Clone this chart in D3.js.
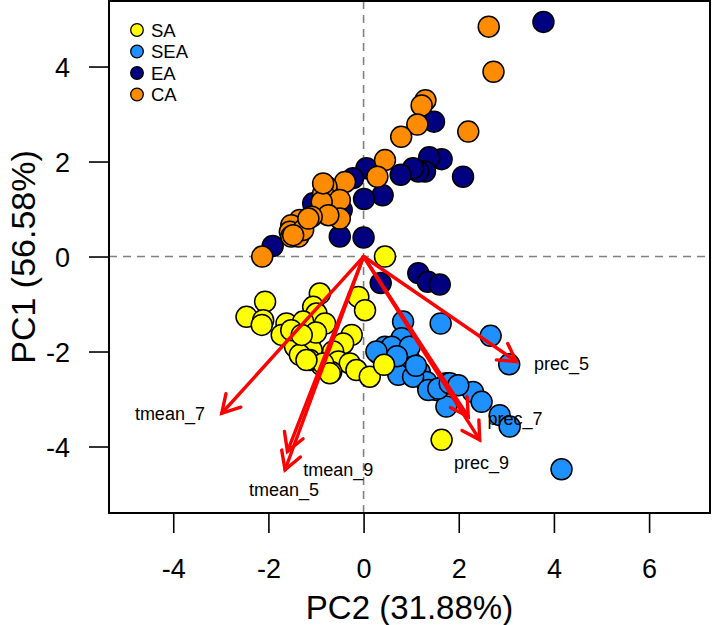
<!DOCTYPE html>
<html><head><meta charset="utf-8">
<script src="https://cdn.jsdelivr.net/npm/d3@7"></script>
<style>body{margin:0;background:#fff}svg{display:block;font-family:"Liberation Sans",Arial,sans-serif}</style>
</head><body><svg id="c" width="715" height="625"></svg>
<script>
// ---- data (x = PC2, y = PC1) ----
const groups = ["SA","SEA","EA","CA"];
const groupColors = ["#FFFF00","#1E90FF","#000080","#FF8C00"];
const saPC2 = [0.45,-0.11,0.03,-2.07,-2.46,-2.11,-2.14,-0.92,-1.06,-0.99,-1.62,-1.72,-1.27,-0.81,-1.13,-1.44,-0.25,-0.43,-1.09,-0.64,-1.34,-0.89,-0.53,-0.29,-0.68,-0.15,-1.13,0.13,-0.85,-0.71,-1.20,0.43,1.64,-1.52,-1.00,-1.30];
const saPC1 = [0.00,-0.85,-1.13,-0.95,-1.27,-1.34,-1.44,-0.78,-1.06,-1.20,-1.41,-1.65,-1.37,-1.41,-1.76,-1.90,-1.65,-1.83,-1.97,-2.00,-2.07,-2.28,-2.21,-2.25,-2.43,-2.39,-2.18,-2.53,-2.25,-2.46,-2.18,-2.28,-3.86,-1.55,-1.60,-1.65];
const seaPC2 = [0.83,1.62,2.67,3.06,0.80,0.45,0.62,0.83,0.31,0.97,0.73,1.18,1.32,1.53,1.74,1.92,2.30,2.48,1.74,2.86,3.07,4.16,0.59,0.97,1.04,1.36,1.57,1.81,1.99,0.27,0.70,1.10];
const seaPC1 = [-1.37,-1.41,-1.67,-2.27,-1.72,-1.90,-1.97,-2.00,-2.04,-2.18,-2.49,-2.43,-2.64,-2.81,-2.67,-2.71,-2.85,-3.06,-3.16,-3.34,-3.58,-4.48,-1.90,-1.90,-2.53,-2.81,-2.78,-2.67,-2.71,-2.00,-2.10,-2.30];
const eaPC2 = [3.78,1.48,1.64,1.38,1.29,1.15,1.04,0.78,2.09,0.06,0.40,0.01,0.00,-0.50,-1.91,-0.22,-1.06,-0.46,1.15,1.35,1.60,0.36];
const eaPC1 = [4.94,2.84,2.05,2.09,1.79,1.79,1.86,1.72,1.68,1.86,1.29,1.21,0.40,0.42,0.22,1.65,1.12,0.98,-0.35,-0.53,-0.59,-0.56];
const caPC2 = [2.63,2.73,1.30,1.22,1.13,0.79,2.20,0.45,0.29,-0.39,-0.78,-0.85,-0.50,-0.88,-0.50,-0.74,-1.09,-1.34,-1.52,-1.55,-1.52,-1.37,-1.27,-2.13,-0.85,-1.16,-1.48];
const caPC1 = [4.84,3.89,3.29,3.18,2.78,2.52,2.63,2.03,1.68,1.57,1.47,1.33,1.19,1.15,0.80,0.87,0.84,0.77,0.66,0.52,0.42,0.42,0.56,0.00,1.54,0.80,0.45];
// loadings arrows
const varNames = ["tmean_7","tmean_9","tmean_5","prec_5","prec_7","prec_9"];
const varPC2 = [-2.98,-1.60,-1.65,3.21,2.20,2.44];
const varPC1 = [-3.30,-4.10,-4.49,-2.21,-3.37,-3.86];
const labelPC2 = [-4.07,-0.53,-1.67,4.16,3.18,2.48];
const labelPC1 = [-3.30,-4.49,-4.90,-2.25,-3.41,-4.35];
const xTicks = [-4,-2,0,2,4,6];
const yTicks = [-4,-2,0,2,4];
const xTitle = "PC2 (31.88%)";
const yTitle = "PC1 (56.58%)";

// ---- layout ----
const L=109, R=710, T=1, B=513;
const x = d3.scaleLinear().domain([-5.35,7.28]).range([L,R]);
const y = d3.scaleLinear().domain([-5.40,5.38]).range([B,T]);
const svg = d3.select("#c");

// axes
const xAxis = svg.append("g").attr("transform",`translate(0,${B})`)
  .call(d3.axisBottom(x).tickValues(xTicks).tickSize(20).tickPadding(26).tickFormat(d3.format("d")));
const yAxis = svg.append("g").attr("transform",`translate(${L},0)`)
  .call(d3.axisLeft(y).tickValues(yTicks).tickSize(20).tickPadding(19).tickFormat(d3.format("d")));
[xAxis,yAxis].forEach(a=>{
  a.select(".domain").remove();
  a.selectAll(".tick line").attr("stroke","#000").attr("stroke-width",1.6);
  a.selectAll(".tick text").attr("font-size",27).attr("fill","#000").attr("font-family","Liberation Sans, Arial, sans-serif");
  a.selectAll(".tick text").text(d=>String(d));
});
xAxis.selectAll(".tick text").attr("dy","0.71em");
yAxis.selectAll(".tick text").attr("dy","0.36em");

// titles
svg.append("text").attr("x",(L+R)/2).attr("y",619).attr("text-anchor","middle")
  .attr("font-size",33).text(xTitle);
svg.append("text").attr("transform",`translate(35,${(T+B)/2}) rotate(-90)`).attr("text-anchor","middle")
  .attr("font-size",34).text(yTitle);

// dashed zero lines
svg.append("line").attr("x1",x(0)).attr("x2",x(0)).attr("y1",T).attr("y2",B)
  .attr("stroke","#808080").attr("stroke-width",1.6).attr("stroke-dasharray","8,6");
svg.append("line").attr("x1",L).attr("x2",R).attr("y1",y(0)).attr("y2",y(0))
  .attr("stroke","#808080").attr("stroke-width",1.6).attr("stroke-dasharray","8,6");

// points: drawing order SEA, SA, EA, CA
const series = {
  SA: d3.zip(saPC2,saPC1), SEA: d3.zip(seaPC2,seaPC1),
  EA: d3.zip(eaPC2,eaPC1), CA: d3.zip(caPC2,caPC1)
};
const color = d3.scaleOrdinal().domain(groups).range(groupColors);
["SEA","SA","EA","CA"].forEach(g=>{
  svg.append("g").selectAll("circle").data(series[g]).join("circle")
    .attr("cx",d=>x(d[0])).attr("cy",d=>y(d[1])).attr("r",10.5)
    .attr("fill",color(g)).attr("stroke","#000").attr("stroke-width",1.5);
});

// arrows
const arrows = varNames.map((n,i)=>({n,x:varPC2[i],y:varPC1[i],lx:labelPC2[i],ly:labelPC1[i]}));
const ag = svg.append("g").attr("stroke","#FF0000").attr("stroke-width",3.4).attr("fill","none").attr("stroke-linecap","round");
arrows.forEach(a=>{
  const x0=x(0), y0=y(0), x1=x(a.x), y1=y(a.y);
  ag.append("line").attr("x1",x0).attr("y1",y0).attr("x2",x1).attr("y2",y1);
  const ang = Math.atan2(y1-y0,x1-x0), len=20, sp=Math.PI/6;
  const p1=[x1-len*Math.cos(ang-sp), y1-len*Math.sin(ang-sp)];
  const p2=[x1-len*Math.cos(ang+sp), y1-len*Math.sin(ang+sp)];
  ag.append("path").attr("d",`M${p1}L${x1},${y1}L${p2}`);
});
svg.append("g").selectAll("text").data(arrows).join("text")
  .attr("x",d=>x(d.lx)).attr("y",d=>y(d.ly)).attr("dy","0.35em").attr("text-anchor","middle")
  .attr("font-size",18).attr("fill","#000").text(d=>d.n);

// box
svg.append("rect").attr("x",L).attr("y",T).attr("width",R-L).attr("height",B-T)
  .attr("fill","none").attr("stroke","#000").attr("stroke-width",2);

// legend
const lg = svg.append("g");
groups.forEach((g,i)=>{
  lg.append("circle").attr("cx",137).attr("cy",30+i*21.5).attr("r",6.3)
    .attr("fill",color(g)).attr("stroke","#000").attr("stroke-width",1.3);
  lg.append("text").attr("x",151).attr("y",30+i*21.5).attr("dy","0.36em")
    .attr("font-size",18.5).text(g);
});
</script></body></html>
